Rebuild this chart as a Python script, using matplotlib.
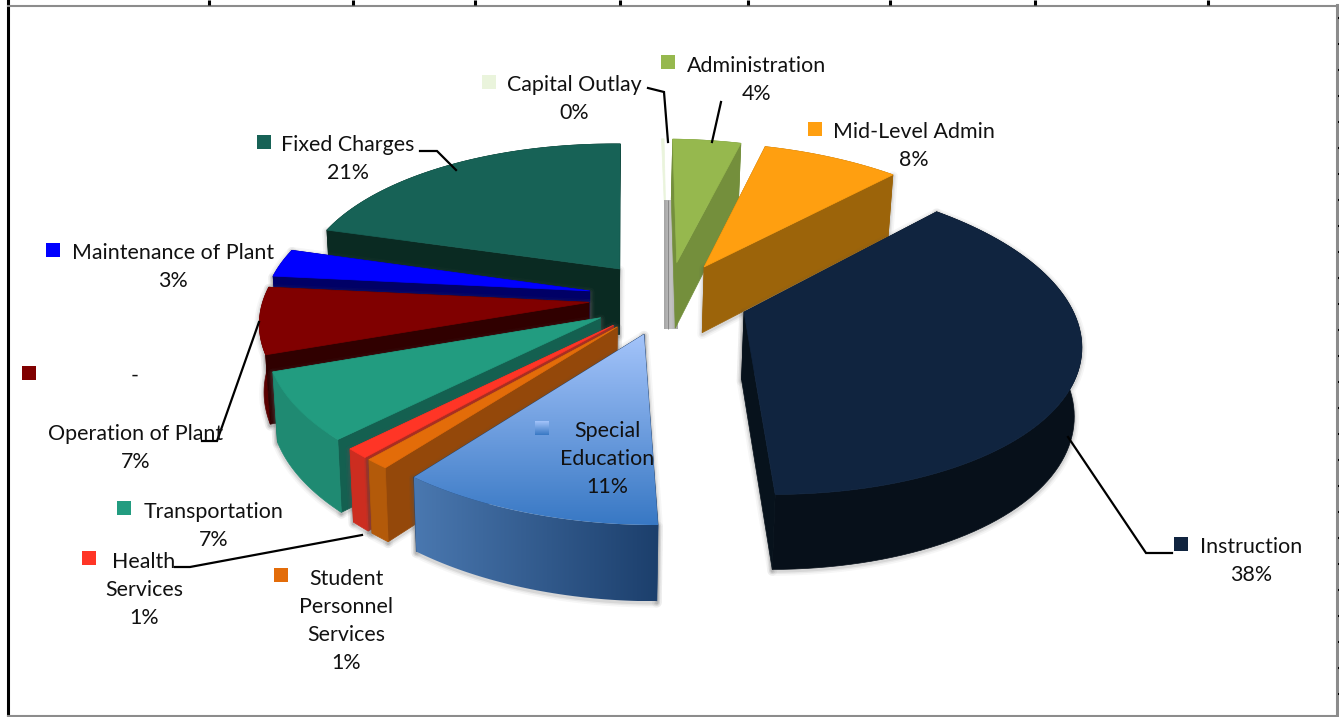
import numpy as np
import matplotlib
matplotlib.use('Agg')
import matplotlib.pyplot as plt
from matplotlib.colors import LinearSegmentedColormap
from matplotlib.patches import Polygon, Rectangle

plt.rcParams['font.family'] = ['Lato', 'DejaVu Sans']

# clockwise from 12 o'clock
categories = ['Capital Outlay', 'Administration', 'Mid-Level Admin', 'Instruction',
              'Special\nEducation', 'Student\nPersonnel\nServices', 'Health\nServices',
              'Transportation', 'Operation of Plant', 'Maintenance of Plant', 'Fixed Charges']
values = [0.15, 4, 8, 38, 11, 1, 1, 7, 7, 3, 21]
top_colors = ['#EAF4DC', '#96B84E', '#FF9F10', '#10243F', '#7FAAEA', '#E36C09', '#FF3526',
              '#229C80', '#800000', '#0000FF', '#176256']
side_colors = ['#B4B4B4', '#748F3C', '#9C640A', '#07121C', '#1D406E', '#94480A', '#B32A1E',
               '#146050', '#300000', '#000066', '#0A2A22']
rim_colors = ['#B4B4B4', '#748F3C', '#9C640A', '#07101A', '#2B5585', '#B35A0A', '#CC2D20',
              '#1F8A72', '#5A0000', '#000080', '#0A2A22']

# label anchors in pixels: square marker, text centre
marker_xy = [(489, 82), (668, 62), (815, 129), (1181, 544), (542, 428), (281, 575),
             (89, 558), (124, 508), (29, 373), (53, 250), (264, 142)]
label_xy = [(574, 99), (757, 80), (914, 146), (1251, 561), (607, 459), (346, 621),
            (144, 590), (214, 526), (136, 448), (173, 267), (348, 159)]
leaders = [[(648, 88), (664, 92), (668, 142)],
           [(721, 102), (712, 142)],
           [(420, 151), (437, 151), (456, 170)],
           [(202, 441), (217, 441), (259, 322)],
           [(175, 567), (190, 567), (362, 535)],
           [(1172, 553), (1146, 553), (1068, 437)]]
top_ticks = [209, 353, 475, 620, 748, 890, 1035, 1208]

# perspective set-up for the pie
CX, CY = 668, 298
PX = 577
RADIUS = 325
D = 6.84
A = 1034
HEIGHT = 67
EXPLODE = 0.245
ROT = 1.2


def project(x, y):
    s = D / (D + y)
    return PX + (CX - PX + RADIUS * x) * s, CY + A * (s - 1)


def drop(x, y):
    sx, sy = project(x, y)
    s = D / (D + y)
    return PX + (sx - PX) * 0.985, sy + HEIGHT * s ** 0.65


def to_poly(fn, xs, ys):
    return np.column_stack(fn(np.asarray(xs), np.asarray(ys)))


def gradient(ax, poly, c0, c1, vertical, z):
    cmap = LinearSegmentedColormap.from_list('g', [c0, c1])
    ramp = np.linspace(0, 1, 256)
    ramp = ramp[:, None] if vertical else ramp[None, :]
    x0, y0 = poly.min(axis=0)
    x1, y1 = poly.max(axis=0)
    im = ax.imshow(ramp, cmap=cmap, extent=(x0, x1, y1, y0), aspect='auto', zorder=z)
    im.set_clip_path(Polygon(poly, transform=ax.transData))


fig = plt.figure(figsize=(13.39, 7.17), dpi=100)
ax = fig.add_axes([0, 0, 1, 1])
ax.axis('off')

total = sum(values)
edges = np.concatenate([[0], np.cumsum(values)]) / total * 2 * np.pi + np.radians(ROT)
mids = (edges[:-1] + edges[1:]) / 2

z = 10
for i in sorted(range(len(values)), key=lambda k: -np.cos(mids[k])):
    a0, a1, am = edges[i], edges[i + 1], mids[i]
    ox, oy = EXPLODE * np.sin(am), EXPLODE * np.cos(am)
    t = np.linspace(a0, a1, 80)
    arc_x, arc_y = ox + np.sin(t), oy + np.cos(t)

    walls = [
        (np.r_[ox, ox + np.sin(a0)], np.r_[oy, oy + np.cos(a0)], side_colors[i]),
        (np.r_[ox, ox + np.sin(a1)], np.r_[oy, oy + np.cos(a1)], side_colors[i]),
        (arc_x, arc_y, rim_colors[i]),
    ]
    walls.sort(key=lambda w: -np.mean(w[1]))
    solid = []
    # the thin first slice gets the grey panel instead of walls
    for xs, ys, col in (walls if i != 0 else []):
        poly = np.vstack([to_poly(project, xs, ys), to_poly(drop, xs, ys)[::-1]])
        solid.append((poly, col, xs is arc_x, np.mean(ys)))

    # soft halo under the walls, back walls stay hidden behind the top face
    for lw, al in [(7, 0.05), (4.5, 0.08), (2.5, 0.12)]:
        for poly, _, _, depth in solid:
            if depth < 0.6:
                ax.add_patch(Polygon(poly + [0, 1.5], closed=True, fc='none', ec='#555555',
                                     lw=lw, alpha=al, zorder=z, joinstyle='round'))
    z += 1

    for poly, col, is_rim, _ in solid:
        if categories[i].startswith('Special') and is_rim:
            gradient(ax, poly, '#4A78B0', '#1C3F6C', False, z)
        else:
            ax.add_patch(Polygon(poly, closed=True, fc=col, ec=col, lw=0.5, zorder=z))
        z += 1

    top = to_poly(project, np.r_[ox, arc_x], np.r_[oy, arc_y])
    if categories[i].startswith('Special'):
        gradient(ax, top, '#A4C4FA', '#3878C4', True, z)
    else:
        ax.add_patch(Polygon(top, closed=True, fc=top_colors[i], ec=top_colors[i], lw=0.5, zorder=z))
    z += 1

    # grey back panel sits over the thin first slice
    if i == 0:
        strip = LinearSegmentedColormap.from_list('s', ['#A6A6A6', '#C4C4C4', '#A8A8A8'])
        ax.imshow(np.linspace(0, 1, 32)[None, :], cmap=strip, extent=(664, 678, 329, 200),
                  aspect='auto', zorder=z)
        ax.vlines(668, 200, 329, color='#808080', lw=0.6, zorder=z + 0.5)
        z += 1

# labels
for i, name in enumerate(categories):
    mx, my = marker_xy[i]
    box = Rectangle((mx - 7, my - 7), 14, 14, fc=top_colors[i], ec='none', zorder=200)
    if name.startswith('Special'):
        gradient(ax, box.get_corners(), '#A4C4FA', '#3878C4', True, 200)
    else:
        ax.add_patch(box)
    tx, ty = label_xy[i]
    ax.text(tx, ty, f'{name}\n{round(values[i])}%', ha='center', va='center', fontsize=15.4,
            color='#111111', linespacing=1.52, zorder=201)
ax.text(135, 376, '-', ha='center', va='center', fontsize=15.4, color='#111111', zorder=201)

for pts in leaders:
    xs, ys = zip(*pts)
    ax.plot(xs, ys, color='black', lw=1.6, zorder=199, solid_joinstyle='miter')

# worksheet frame
ax.plot([7.5, 7.5], [0, 717], color='black', lw=2.2, zorder=300)
ax.plot([8, 1338], [6, 6], color='#8C8C8C', lw=1.5, zorder=300)
ax.plot([8, 1336], [715.5, 715.5], color='#8C8C8C', lw=1.5, zorder=300)
ax.plot([1336.5, 1336.5], [5, 717], color='#8C8C8C', lw=2.2, zorder=300)
ax.vlines(top_ticks, 0, 5, color='black', lw=2.2, zorder=300)
ax.hlines(np.arange(18, 717, 26), 1338, 1339, color='black', lw=1.5, zorder=300)

ax.set_xlim(0, 1339)
ax.set_ylim(717, 0)
fig.savefig('out.png', dpi=100, facecolor='white')
